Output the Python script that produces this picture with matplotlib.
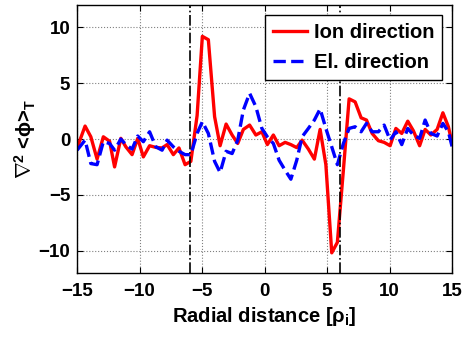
import numpy as np
import matplotlib.pyplot as plt

plt.rcParams['font.family'] = ['Liberation Sans', 'DejaVu Sans']
plt.rcParams['font.weight'] = 'bold'
plt.rcParams['mathtext.fontset'] = 'custom'
plt.rcParams['mathtext.rm'] = 'Liberation Sans:bold'
plt.rcParams['mathtext.it'] = 'Liberation Sans:bold'
plt.rcParams['mathtext.bf'] = 'Liberation Sans:bold'

# radial positions
x = [-15, -14.36, -13.9, -13.4, -12.9, -12.4, -12.0, -11.5, -11.1, -10.6,
     -10.15, -9.7, -9.2, -8.7, -8.2, -7.8, -7.3, -6.85, -6.36, -5.9,
     -5.4, -4.98, -4.5, -4.0, -3.56, -3.08, -2.6, -2.15, -1.7, -1.2,
     -0.7, -0.22, 0.22, 0.7, 1.16, 1.64, 2.1, 2.57, 3.0, 3.5,
     3.98, 4.44, 4.9, 5.37, 5.82, 6.3, 6.76, 7.24, 7.72, 8.15,
     8.6, 9.1, 9.56, 10.04, 10.5, 10.97, 11.45, 11.9, 12.4, 12.84,
     13.3, 13.8, 14.26, 14.7, 15]

ion = [-0.8, 1.16, 0.2, -1.8, 0.2, -0.2, -2.5, 0.06, -0.7, -1.4,
       0.06, -1.6, -0.6, -0.75, -0.8, -0.5, -1.4, -0.8, -2.3, -2.0,
       2.1, 9.2, 8.9, 2.0, -0.6, 1.34, 0.36, -0.4, 0.86, 1.25,
       0.36, 0.65, -0.5, 0.36, -0.6, -0.3, -0.5, -0.77, -0.1, -0.9,
       -1.8, 0.86, -2.3, -10.2, -9.26, -2.8, 3.6, 3.33, 1.9, 1.7,
       0.5, -0.15, -0.3, -0.6, 0.95, 0.5, 1.6, 0.74, -0.6, 0.86,
       0.36, 0.86, 2.35, 1.1, -0.4]

el = [-1.0, -0.1, -2.2, -2.3, -0.24, -0.4, -1.0, 0.0, -0.5, -0.9,
      0.27, -0.24, 0.65, -0.7, -1.0, -0.1, -0.7, -1.1, -1.4, -1.4,
      0.5, 1.55, 0.5, -2.0, -3.0, -1.1, -1.3, -0.1, 2.6, 4.1,
      2.9, 0.95, 0.2, -0.4, -1.9, -2.8, -3.6, -1.9, 0.2, 0.95,
      1.7, 2.7, 0.95, -0.7, -2.3, -0.4, 0.95, 1.1, 0.65, 1.4,
      0.65, 0.65, 1.25, -0.1, 0.65, -0.5, 0.95, 0.36, 0.06, 1.7,
      0.5, 0.27, 1.4, 0.65, -0.7]

vlines = [-6, 6]

fig = plt.figure(figsize=(4.7, 3.42), dpi=100)
ax = fig.add_axes([0.164, 0.202, 0.798, 0.783])

ax.plot(x, ion, '-', color='red', lw=2.4, label='Ion direction')
ax.plot(x, el, '--', color='blue', lw=2.4, label='El. direction')
for v in vlines:
    ax.axvline(v, color='black', ls='-.', lw=1.2)

ax.set_xlim(-15, 15)
ax.set_ylim(-12, 12)
ax.set_xticks([-15, -10, -5, 0, 5, 10, 15])
ax.set_yticks([-10, -5, 0, 5, 10])
ax.grid(True, ls=':', color='gray', lw=0.8)
ax.tick_params(direction='in', top=True, right=True, labelsize=13.5, length=4)
ax.tick_params(axis='x', pad=7)
ax.tick_params(axis='y', pad=5)
for s in ax.spines.values():
    s.set_linewidth(1.0)

ax.set_xlabel(r'Radial distance [$\rho_i$]', fontsize=14.5, fontweight='bold', labelpad=4)
ax.set_ylabel(r'$\nabla^2$ <$\phi$>$_T$', fontsize=14.5, fontweight='bold', labelpad=0)

leg = ax.legend(loc='upper right', fontsize=14.5, fancybox=False, framealpha=1,
                edgecolor='black', handlelength=1.7, handletextpad=0.3,
                borderaxespad=0.5, borderpad=0.4, labelspacing=0.55)
leg.get_frame().set_linewidth(1.0)

fig.savefig('out.png', dpi=100)
